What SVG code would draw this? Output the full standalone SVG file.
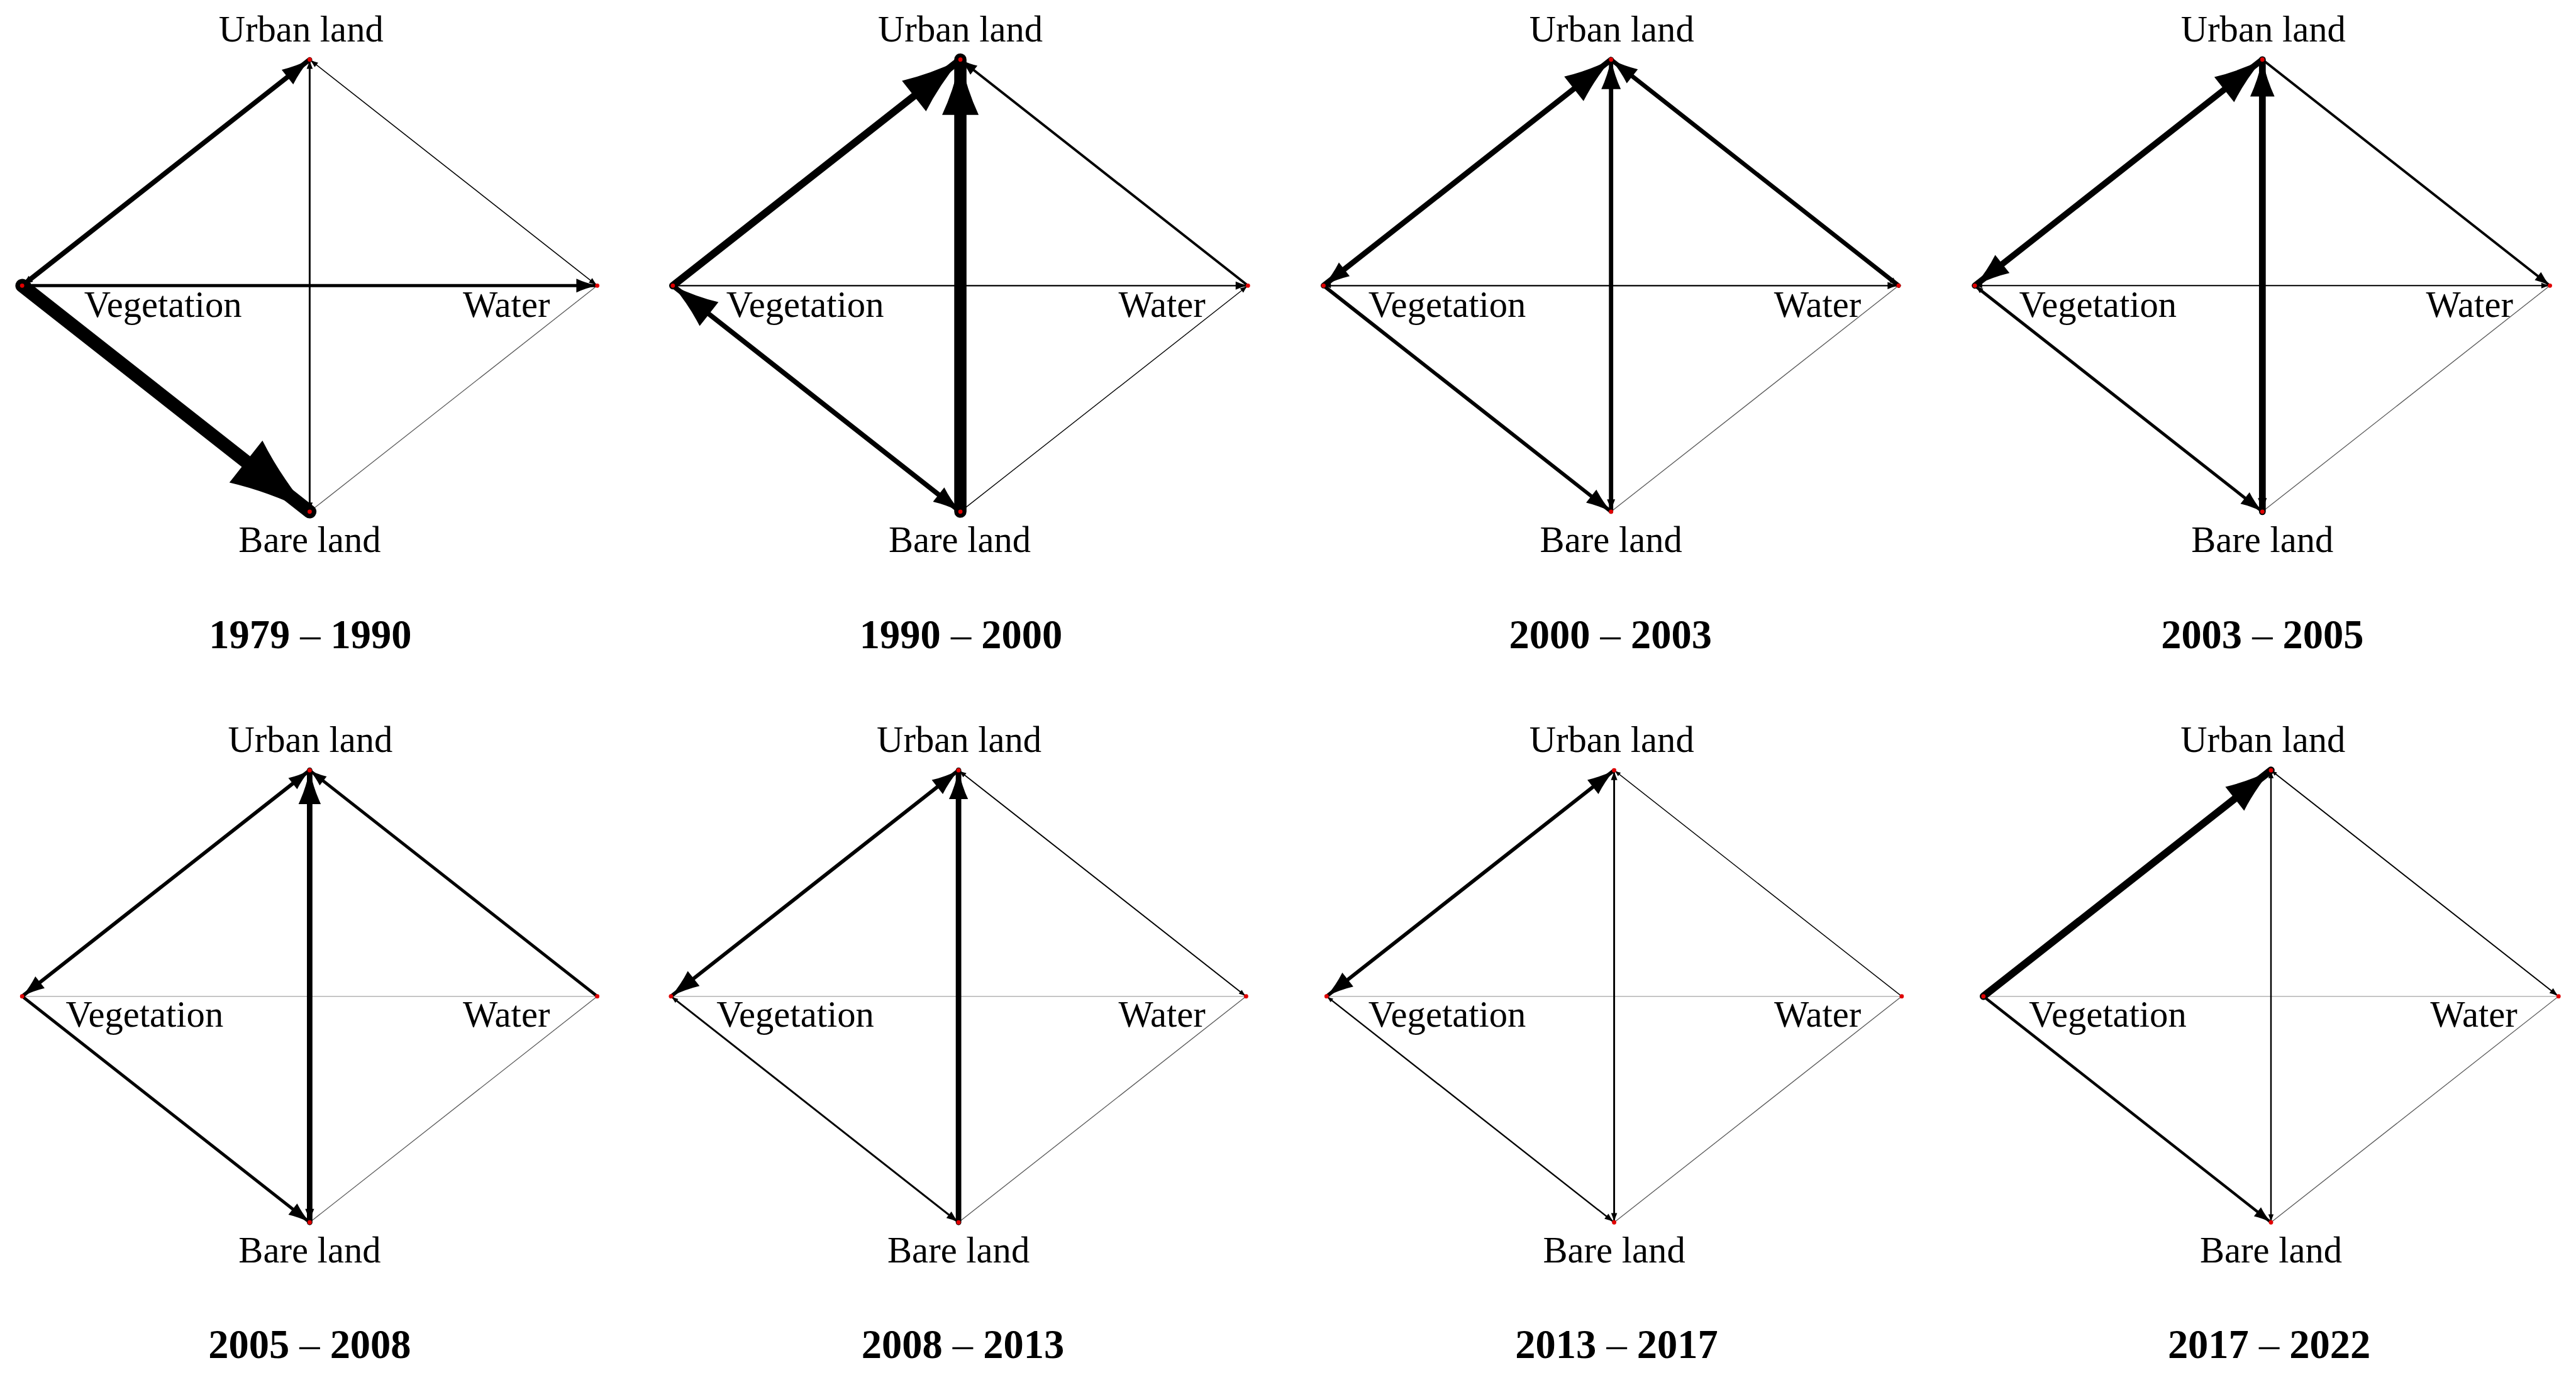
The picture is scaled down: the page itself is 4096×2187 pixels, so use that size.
<svg xmlns="http://www.w3.org/2000/svg" width="4096" height="2187" viewBox="0 0 4096 2187">
<style>
.e{stroke:#000;stroke-linecap:round;fill:none}
.h{stroke:#555;stroke-width:1.3;fill:none}
.hl{stroke:#b4b4b4;stroke-width:1.6;fill:none}
.dot{fill:#e00000}
.lab{font-family:"Liberation Serif","Times New Roman",serif;font-size:60px;fill:#000}
.m{text-anchor:middle}
.s{text-anchor:start}
.n{text-anchor:end}
.ttl{font-family:"Liberation Serif","Times New Roman",serif;font-size:66px;font-weight:bold;text-anchor:middle;fill:#000}
.d{font-weight:normal}
</style>
<defs>
<path id="ah" d="M0,0 Q-0.55,-0.12 -1,-0.33 L-1,0.33 Q-0.55,0.12 0,0 Z" fill="#000"/>
</defs>
<rect width="4096" height="2187" fill="#fff"/>
<g transform="scale(0.977)">

<!-- Panel 1 -->
<g id="p1" transform="translate(504,465)">
 <g id="p1-connectors">
  <line class="h" x1="468" y1="0" x2="0" y2="368"/>
  <line class="e" x1="0" y1="-368" x2="468" y2="0" stroke-width="1.6"/>
  <use href="#ah" transform="translate(468,0) rotate(38.18) scale(14)"/>
  <use href="#ah" transform="translate(0,-368) rotate(-141.82) scale(14)"/>
  <line class="e" x1="0" y1="-368" x2="0" y2="368" stroke-width="3"/>
  <use href="#ah" transform="translate(0,368) rotate(90) scale(15)"/>
  <use href="#ah" transform="translate(0,-368) rotate(-90) scale(15)"/>
  <line class="e" x1="-468" y1="0" x2="468" y2="0" stroke-width="5"/>
  <use href="#ah" transform="translate(468,0) rotate(0) scale(34)"/>
  <use href="#ah" transform="translate(-468,0) rotate(180) scale(14)"/>
  <line class="e" x1="-468" y1="0" x2="0" y2="-368" stroke-width="8"/>
  <use href="#ah" transform="translate(0,-368) rotate(-38.18) scale(46)"/>
  <use href="#ah" transform="translate(-468,0) rotate(141.82) scale(18)"/>
  <line class="e" x1="-468" y1="0" x2="0" y2="368" stroke-width="22"/>
  <use href="#ah" transform="translate(0,368) rotate(38.18) scale(132)"/>
 </g>
 <g id="p1-urban"><circle class="dot" cx="0" cy="-368" r="3.5"/><text class="lab m" x="-14" y="-397">Urban land</text></g>
 <g id="p1-vegetation"><circle class="dot" cx="-468" cy="0" r="3.5"/><text class="lab s" x="-367" y="51">Vegetation</text></g>
 <g id="p1-water"><circle class="dot" cx="468" cy="0" r="3.5"/><text class="lab n" x="391" y="51">Water</text></g>
 <g id="p1-bare"><circle class="dot" cx="0" cy="368" r="3.5"/><text class="lab m" x="0" y="434">Bare land</text></g>
 <text class="ttl" x="1" y="590">1979 <tspan class="d">–</tspan> 1990</text>
</g>

<!-- Panel 2 -->
<g id="p2" transform="translate(1563,465)">
 <g id="p2-connectors">
  <line class="e" x1="468" y1="0" x2="0" y2="368" stroke-width="1.4"/>
  <use href="#ah" transform="translate(468,0) rotate(-38.18) scale(13)"/>
  <line class="e" x1="-468" y1="0" x2="468" y2="0" stroke-width="2.2"/>
  <use href="#ah" transform="translate(468,0) rotate(0) scale(20)"/>
  <line class="e" x1="468" y1="0" x2="0" y2="-368" stroke-width="4"/>
  <use href="#ah" transform="translate(0,-368) rotate(-141.82) scale(28)"/>
  <line class="e" x1="0" y1="368" x2="-468" y2="0" stroke-width="8"/>
  <use href="#ah" transform="translate(-468,0) rotate(-141.82) scale(75)"/>
  <use href="#ah" transform="translate(0,368) rotate(38.18) scale(45)"/>
  <line class="e" x1="-468" y1="0" x2="0" y2="-368" stroke-width="12"/>
  <use href="#ah" transform="translate(0,-368) rotate(-38.18) scale(96)"/>
  <line class="e" x1="0" y1="368" x2="0" y2="-368" stroke-width="20"/>
  <use href="#ah" transform="translate(0,-368) rotate(-90) scale(90)"/>
 </g>
 <g id="p2-urban"><circle class="dot" cx="0" cy="-368" r="3.5"/><text class="lab m" x="0" y="-397">Urban land</text></g>
 <g id="p2-vegetation"><circle class="dot" cx="-468" cy="0" r="3.5"/><text class="lab s" x="-381" y="51">Vegetation</text></g>
 <g id="p2-water"><circle class="dot" cx="468" cy="0" r="3.5"/><text class="lab n" x="399" y="51">Water</text></g>
 <g id="p2-bare"><circle class="dot" cx="0" cy="368" r="3.5"/><text class="lab m" x="-1" y="434">Bare land</text></g>
 <text class="ttl" x="1" y="590">1990 <tspan class="d">–</tspan> 2000</text>
</g>

<!-- Panel 3 -->
<g id="p3" transform="translate(2622,465)">
 <g id="p3-connectors">
  <line class="h" x1="468" y1="0" x2="0" y2="368"/>
  <line class="e" x1="-468" y1="0" x2="468" y2="0" stroke-width="2.4"/>
  <use href="#ah" transform="translate(468,0) rotate(0) scale(18)"/>
  <use href="#ah" transform="translate(-468,0) rotate(180) scale(12)"/>
  <line class="e" x1="-468" y1="0" x2="0" y2="368" stroke-width="6"/>
  <use href="#ah" transform="translate(0,368) rotate(38.18) scale(41)"/>
  <line class="e" x1="468" y1="0" x2="0" y2="-368" stroke-width="7"/>
  <use href="#ah" transform="translate(0,-368) rotate(-141.82) scale(44)"/>
  <use href="#ah" transform="translate(468,0) rotate(38.18) scale(15)"/>
  <line class="e" x1="0" y1="368" x2="0" y2="-368" stroke-width="7"/>
  <use href="#ah" transform="translate(0,-368) rotate(-90) scale(48)"/>
  <use href="#ah" transform="translate(0,368) rotate(90) scale(20)"/>
  <line class="e" x1="-468" y1="0" x2="0" y2="-368" stroke-width="9"/>
  <use href="#ah" transform="translate(0,-368) rotate(-38.18) scale(77)"/>
  <use href="#ah" transform="translate(-468,0) rotate(141.82) scale(43)"/>
 </g>
 <g id="p3-urban"><circle class="dot" cx="0" cy="-368" r="3.5"/><text class="lab m" x="1" y="-397">Urban land</text></g>
 <g id="p3-vegetation"><circle class="dot" cx="-468" cy="0" r="3.5"/><text class="lab s" x="-395" y="51">Vegetation</text></g>
 <g id="p3-water"><circle class="dot" cx="468" cy="0" r="3.5"/><text class="lab n" x="407" y="51">Water</text></g>
 <g id="p3-bare"><circle class="dot" cx="0" cy="368" r="3.5"/><text class="lab m" x="0" y="434">Bare land</text></g>
 <text class="ttl" x="-1" y="590">2000 <tspan class="d">–</tspan> 2003</text>
</g>

<!-- Panel 4 -->
<g id="p4" transform="translate(3682,465)">
 <g id="p4-connectors">
  <line class="h" x1="468" y1="0" x2="0" y2="368"/>
  <line class="e" x1="-468" y1="0" x2="468" y2="0" stroke-width="2"/>
  <use href="#ah" transform="translate(468,0) rotate(0) scale(14)"/>
  <use href="#ah" transform="translate(-468,0) rotate(180) scale(12)"/>
  <line class="e" x1="0" y1="-368" x2="468" y2="0" stroke-width="4"/>
  <use href="#ah" transform="translate(468,0) rotate(38.18) scale(25)"/>
  <line class="e" x1="-468" y1="0" x2="0" y2="368" stroke-width="5"/>
  <use href="#ah" transform="translate(0,368) rotate(38.18) scale(36)"/>
  <use href="#ah" transform="translate(-468,0) rotate(-141.82) scale(14)"/>
  <line class="e" x1="-468" y1="0" x2="0" y2="-368" stroke-width="10"/>
  <use href="#ah" transform="translate(0,-368) rotate(-38.18) scale(79)"/>
  <use href="#ah" transform="translate(-468,0) rotate(141.82) scale(57)"/>
  <line class="e" x1="0" y1="368" x2="0" y2="-368" stroke-width="11"/>
  <use href="#ah" transform="translate(0,-368) rotate(-90) scale(60)"/>
  <use href="#ah" transform="translate(0,368) rotate(90) scale(22)"/>
 </g>
 <g id="p4-urban"><circle class="dot" cx="0" cy="-368" r="3.5"/><text class="lab m" x="1.5" y="-397">Urban land</text></g>
 <g id="p4-vegetation"><circle class="dot" cx="-468" cy="0" r="3.5"/><text class="lab s" x="-396" y="51">Vegetation</text></g>
 <g id="p4-water"><circle class="dot" cx="468" cy="0" r="3.5"/><text class="lab n" x="408" y="51">Water</text></g>
 <g id="p4-bare"><circle class="dot" cx="0" cy="368" r="3.5"/><text class="lab m" x="0" y="434">Bare land</text></g>
 <text class="ttl" x="0" y="590">2003 <tspan class="d">–</tspan> 2005</text>
</g>

<!-- Panel 5 -->
<g id="p5" transform="translate(504,1622)">
 <g id="p5-connectors">
  <line class="hl" x1="-468" y1="0" x2="468" y2="0"/>
  <line class="h" x1="468" y1="0" x2="0" y2="368"/>
  <line class="e" x1="468" y1="0" x2="0" y2="-368" stroke-width="5"/>
  <use href="#ah" transform="translate(0,-368) rotate(-141.82) scale(28)"/>
  <line class="e" x1="-468" y1="0" x2="0" y2="368" stroke-width="5"/>
  <use href="#ah" transform="translate(0,368) rotate(38.18) scale(35)"/>
  <line class="e" x1="-468" y1="0" x2="0" y2="-368" stroke-width="6"/>
  <use href="#ah" transform="translate(0,-368) rotate(-38.18) scale(35)"/>
  <use href="#ah" transform="translate(-468,0) rotate(141.82) scale(37)"/>
  <line class="e" x1="0" y1="368" x2="0" y2="-368" stroke-width="9"/>
  <use href="#ah" transform="translate(0,-368) rotate(-90) scale(55)"/>
  <use href="#ah" transform="translate(0,368) rotate(90) scale(22)"/>
 </g>
 <g id="p5-urban"><circle class="dot" cx="0" cy="-368" r="3.5"/><text class="lab m" x="1" y="-398">Urban land</text></g>
 <g id="p5-vegetation"><circle class="dot" cx="-468" cy="0" r="3.5"/><text class="lab s" x="-397" y="49">Vegetation</text></g>
 <g id="p5-water"><circle class="dot" cx="468" cy="0" r="3.5"/><text class="lab n" x="391" y="49">Water</text></g>
 <g id="p5-bare"><circle class="dot" cx="0" cy="368" r="3.5"/><text class="lab m" x="0" y="433">Bare land</text></g>
 <text class="ttl" x="0" y="589">2005 <tspan class="d">–</tspan> 2008</text>
</g>

<!-- Panel 6 -->
<g id="p6" transform="translate(1560,1622)">
 <g id="p6-connectors">
  <line class="hl" x1="-468" y1="0" x2="468" y2="0"/>
  <line class="h" x1="468" y1="0" x2="0" y2="368"/>
  <line class="e" x1="468" y1="0" x2="0" y2="-368" stroke-width="2"/>
  <use href="#ah" transform="translate(0,-368) rotate(-141.82) scale(13)"/>
  <use href="#ah" transform="translate(468,0) rotate(38.18) scale(12)"/>
  <line class="e" x1="-468" y1="0" x2="0" y2="368" stroke-width="3"/>
  <use href="#ah" transform="translate(0,368) rotate(38.18) scale(20)"/>
  <use href="#ah" transform="translate(-468,0) rotate(-141.82) scale(12)"/>
  <line class="e" x1="-468" y1="0" x2="0" y2="-368" stroke-width="6"/>
  <use href="#ah" transform="translate(0,-368) rotate(-38.18) scale(44)"/>
  <use href="#ah" transform="translate(-468,0) rotate(141.82) scale(47)"/>
  <line class="e" x1="0" y1="368" x2="0" y2="-368" stroke-width="9"/>
  <use href="#ah" transform="translate(0,-368) rotate(-90) scale(47)"/>
 </g>
 <g id="p6-urban"><circle class="dot" cx="0" cy="-368" r="3.5"/><text class="lab m" x="1" y="-398">Urban land</text></g>
 <g id="p6-vegetation"><circle class="dot" cx="-468" cy="0" r="3.5"/><text class="lab s" x="-394" y="49">Vegetation</text></g>
 <g id="p6-water"><circle class="dot" cx="468" cy="0" r="3.5"/><text class="lab n" x="402" y="49">Water</text></g>
 <g id="p6-bare"><circle class="dot" cx="0" cy="368" r="3.5"/><text class="lab m" x="0" y="433">Bare land</text></g>
 <text class="ttl" x="7" y="589">2008 <tspan class="d">–</tspan> 2013</text>
</g>

<!-- Panel 7 -->
<g id="p7" transform="translate(2627,1622)">
 <g id="p7-connectors">
  <line class="hl" x1="-468" y1="0" x2="468" y2="0"/>
  <line class="h" x1="468" y1="0" x2="0" y2="368"/>
  <line class="e" x1="468" y1="0" x2="0" y2="-368" stroke-width="1.5"/>
  <use href="#ah" transform="translate(0,-368) rotate(-141.82) scale(11)"/>
  <line class="e" x1="-468" y1="0" x2="0" y2="368" stroke-width="2.4"/>
  <use href="#ah" transform="translate(0,368) rotate(38.18) scale(16)"/>
  <use href="#ah" transform="translate(-468,0) rotate(-141.82) scale(11)"/>
  <line class="e" x1="0" y1="368" x2="0" y2="-368" stroke-width="3"/>
  <use href="#ah" transform="translate(0,-368) rotate(-90) scale(16)"/>
  <use href="#ah" transform="translate(0,368) rotate(90) scale(15)"/>
  <line class="e" x1="-468" y1="0" x2="0" y2="-368" stroke-width="6"/>
  <use href="#ah" transform="translate(0,-368) rotate(-38.18) scale(44)"/>
  <use href="#ah" transform="translate(-468,0) rotate(141.82) scale(44)"/>
 </g>
 <g id="p7-urban"><circle class="dot" cx="0" cy="-368" r="3.5"/><text class="lab m" x="-4" y="-398">Urban land</text></g>
 <g id="p7-vegetation"><circle class="dot" cx="-468" cy="0" r="3.5"/><text class="lab s" x="-400" y="49">Vegetation</text></g>
 <g id="p7-water"><circle class="dot" cx="468" cy="0" r="3.5"/><text class="lab n" x="402" y="49">Water</text></g>
 <g id="p7-bare"><circle class="dot" cx="0" cy="368" r="3.5"/><text class="lab m" x="0" y="433">Bare land</text></g>
 <text class="ttl" x="4" y="589">2013 <tspan class="d">–</tspan> 2017</text>
</g>

<!-- Panel 8 -->
<g id="p8" transform="translate(3696,1622)">
 <g id="p8-connectors">
  <line class="hl" x1="-468" y1="0" x2="468" y2="0"/>
  <line class="h" x1="468" y1="0" x2="0" y2="368"/>
  <line class="e" x1="0" y1="-368" x2="468" y2="0" stroke-width="2"/>
  <use href="#ah" transform="translate(468,0) rotate(38.18) scale(15)"/>
  <use href="#ah" transform="translate(0,-368) rotate(-141.82) scale(10)"/>
  <line class="e" x1="0" y1="368" x2="0" y2="-368" stroke-width="2.5"/>
  <use href="#ah" transform="translate(0,-368) rotate(-90) scale(13)"/>
  <use href="#ah" transform="translate(0,368) rotate(90) scale(13)"/>
  <line class="e" x1="-468" y1="0" x2="0" y2="368" stroke-width="4.5"/>
  <use href="#ah" transform="translate(0,368) rotate(38.18) scale(28)"/>
  <line class="e" x1="-468" y1="0" x2="0" y2="-368" stroke-width="12"/>
  <use href="#ah" transform="translate(0,-368) rotate(-38.18) scale(75)"/>
 </g>
 <g id="p8-urban"><circle class="dot" cx="0" cy="-368" r="3.5"/><text class="lab m" x="-13" y="-398">Urban land</text></g>
 <g id="p8-vegetation"><circle class="dot" cx="-468" cy="0" r="3.5"/><text class="lab s" x="-394" y="49">Vegetation</text></g>
 <g id="p8-water"><circle class="dot" cx="468" cy="0" r="3.5"/><text class="lab n" x="401" y="49">Water</text></g>
 <g id="p8-bare"><circle class="dot" cx="0" cy="368" r="3.5"/><text class="lab m" x="0" y="433">Bare land</text></g>
 <text class="ttl" x="-3" y="589">2017 <tspan class="d">–</tspan> 2022</text>
</g>

</g>
</svg>
